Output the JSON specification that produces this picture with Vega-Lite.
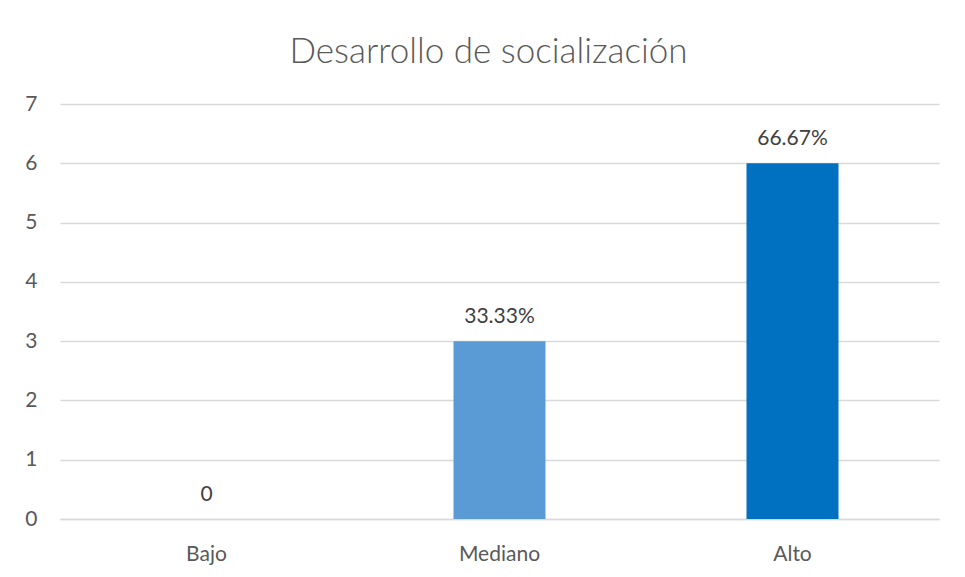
{
  "$schema": "https://vega.github.io/schema/vega-lite/v6.json",
  "width": 879,
  "height": 415,
  "autosize": "none",
  "padding": {"left": 60, "top": 104, "right": 26, "bottom": 58},
  "background": "white",
  "title": {
    "text": "Desarrollo de socialización",
    "anchor": "middle",
    "dx": -11,
    "offset": 23,
    "font": "Lato",
    "fontSize": 35,
    "fontWeight": 300,
    "color": "#595959"
  },
  "data": {
    "values": [
      {"nivel": "Bajo", "valor": 0, "etiqueta": "0"},
      {"nivel": "Mediano", "valor": 3, "etiqueta": "33.33%"},
      {"nivel": "Alto", "valor": 6, "etiqueta": "66.67%"}
    ]
  },
  "encoding": {
    "x": {
      "field": "nivel",
      "type": "nominal",
      "sort": ["Bajo", "Mediano", "Alto"],
      "scale": {"paddingInner": 0.686, "paddingOuter": 0.343},
      "axis": {
        "title": null,
        "labelAngle": 0,
        "ticks": false,
        "domain": true,
        "domainColor": "#d9d9d9",
        "domainWidth": 1.5,
        "labelPadding": 24,
        "labelFont": "Lato",
        "labelFontSize": 21,
        "labelColor": "#595959"
      }
    },
    "y": {
      "field": "valor",
      "type": "quantitative",
      "scale": {"domain": [0, 7], "nice": false},
      "axis": {
        "title": null,
        "values": [0, 1, 2, 3, 4, 5, 6, 7],
        "labelOverlap": false,
        "ticks": false,
        "domain": false,
        "grid": true,
        "gridColor": "#d9d9d9",
        "gridWidth": 1.5,
        "labelPadding": 23,
        "labelFont": "Lato",
        "labelFontSize": 21,
        "labelColor": "#595959"
      }
    }
  },
  "layer": [
    {
      "mark": {"type": "bar"},
      "encoding": {
        "color": {
          "field": "nivel",
          "type": "nominal",
          "scale": {"domain": ["Bajo", "Mediano", "Alto"], "range": ["#5B9BD5", "#5B9BD5", "#0070C0"]},
          "legend": null
        }
      }
    },
    {
      "mark": {"type": "text", "dy": -24, "font": "Lato", "fontSize": 21, "color": "#404040"},
      "encoding": {
        "text": {"field": "etiqueta"}
      }
    }
  ],
  "config": {
    "view": {"stroke": null}
  }
}
